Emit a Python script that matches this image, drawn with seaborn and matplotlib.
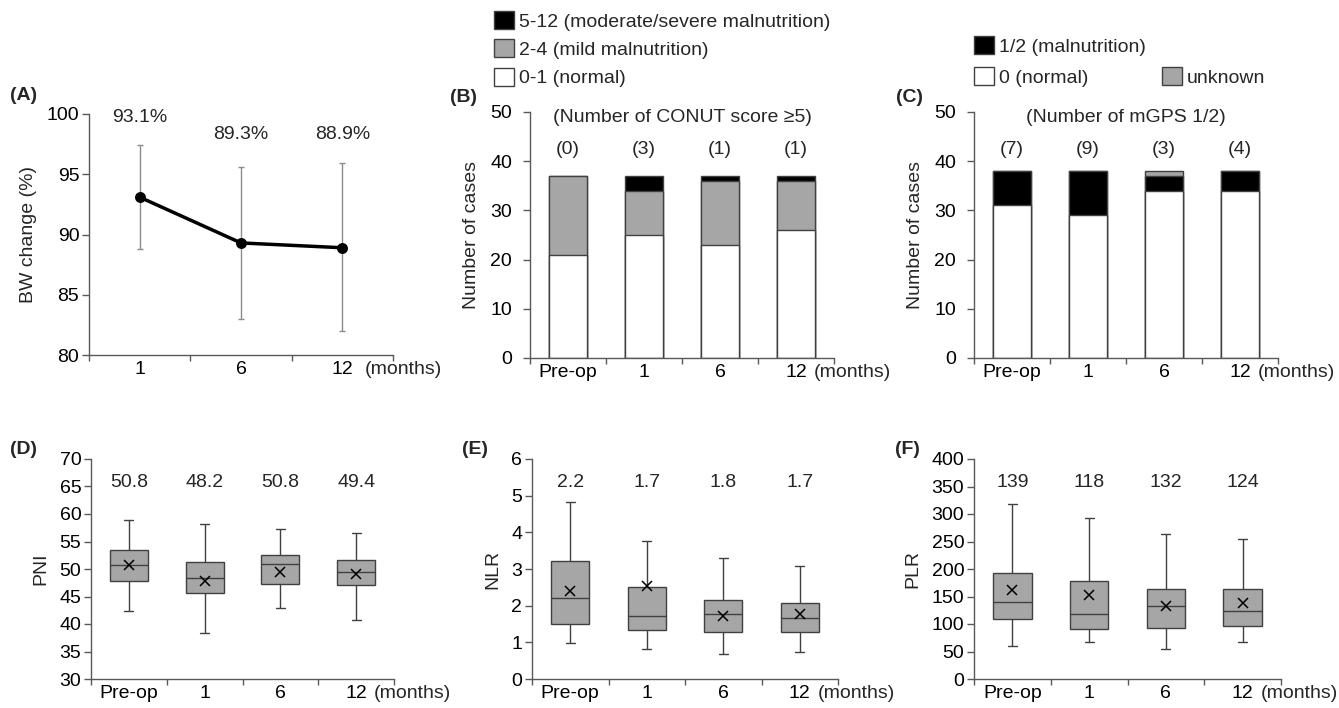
import numpy as np
import pandas as pd
import matplotlib
matplotlib.use("Agg")
import matplotlib.pyplot as plt
import seaborn as sns
from matplotlib.patches import Patch
from matplotlib.transforms import blended_transform_factory

# ---- values ----
bw_months = ["1", "6", "12"]
bw_mean = [93.1, 89.3, 88.9]
bw_low = [88.8, 83.0, 82.0]
bw_high = [97.4, 95.6, 95.9]
bw_labels = ["93.1%", "89.3%", "88.9%"]

times = ["Pre-op", "1", "6", "12"]

conut_normal = [21, 25, 23, 26]
conut_mild = [16, 9, 13, 10]
conut_severe = [0, 3, 1, 1]
conut_counts = ["(0)", "(3)", "(1)", "(1)"]

mgps_normal = [31, 29, 34, 34]
mgps_mal = [7, 9, 3, 4]
mgps_unknown = [0, 0, 1, 0]
mgps_counts = ["(7)", "(9)", "(3)", "(4)"]

# box summaries: lower whisker, Q1, median, Q3, upper whisker, mean
pni_low = [42.4, 38.4, 42.9, 40.7]
pni_q1 = [47.9, 45.6, 47.2, 47.1]
pni_med = [50.8, 48.3, 50.9, 49.4]
pni_q3 = [53.4, 51.2, 52.6, 51.7]
pni_high = [59.0, 58.1, 57.2, 56.6]
pni_mean = [50.7, 47.8, 49.4, 49.1]
pni_labels = ["50.8", "48.2", "50.8", "49.4"]

nlr_low = [0.98, 0.82, 0.68, 0.75]
nlr_q1 = [1.50, 1.33, 1.27, 1.29]
nlr_med = [2.20, 1.71, 1.76, 1.66]
nlr_q3 = [3.21, 2.51, 2.15, 2.07]
nlr_high = [4.82, 3.76, 3.31, 3.08]
nlr_mean = [2.39, 2.55, 1.73, 1.76]
nlr_labels = ["2.2", "1.7", "1.8", "1.7"]

plr_low = [60, 67, 55, 68]
plr_q1 = [110, 91, 93, 97]
plr_med = [140, 119, 132, 124]
plr_q3 = [193, 178, 163, 163]
plr_high = [318, 292, 264, 255]
plr_mean = [161, 153, 132, 138]
plr_labels = ["139", "118", "132", "124"]

GRAY = "#a6a6a6"
EDGE = "#404040"
AXC = "#595959"
FS = 14

sns.set_theme(style="white")
plt.rcParams["font.family"] = ["Liberation Sans", "DejaVu Sans"]
plt.rcParams["axes.edgecolor"] = AXC
plt.rcParams["axes.linewidth"] = 1.0
plt.rcParams["xtick.color"] = AXC
plt.rcParams["ytick.color"] = AXC
plt.rcParams["xtick.labelcolor"] = "black"
plt.rcParams["ytick.labelcolor"] = "black"

W, H = 1339, 708
fig = plt.figure(figsize=(W / 100, H / 100), dpi=100)


def px_axes(left, right, top, bottom):
    return fig.add_axes([left / W, 1 - bottom / H, (right - left) / W, (bottom - top) / H])


def style_axis(ax, labels, ylim, yticks, ylabel, months_dx=13, ypad=2):
    n = len(labels)
    sns.despine(ax=ax)
    ax.set_xlim(-0.5, n - 0.5)
    ax.set_ylim(*ylim)
    ax.set_yticks(yticks)
    ax.set_xticks(range(n), labels)
    ax.set_xticks(np.arange(n + 1) - 0.5, minor=True)
    ax.tick_params(axis="x", which="major", length=0, pad=4, labelsize=FS)
    ax.tick_params(axis="x", which="minor", length=4, width=1, direction="out", bottom=True)
    ax.tick_params(axis="y", length=5, width=1, pad=ypad, direction="out", left=True, labelsize=FS)
    ax.set_xlabel("")
    ax.set_ylabel(ylabel, fontsize=FS, labelpad=7)
    tr = blended_transform_factory(ax.transData, ax.transAxes)
    ax.annotate("(months)", xy=(n - 1, 0), xycoords=tr, xytext=(months_dx, -4),
                textcoords="offset points", ha="left", va="top", fontsize=FS)


# ---- (A) body weight change ----
ax = px_axes(89, 393, 114, 355)
lo = np.array(bw_mean) - np.array(bw_low)
hi = np.array(bw_high) - np.array(bw_mean)
ax.errorbar(range(3), bw_mean, yerr=[lo, hi], fmt="none", ecolor="#8c8c8c",
            elinewidth=1, capsize=2.5, capthick=1, zorder=1)
sns.pointplot(x=bw_months, y=bw_mean, ax=ax, color="black", errorbar=None,
              markersize=6, linewidth=2.5, zorder=3)
style_axis(ax, bw_months, (80, 100), [80, 85, 90, 95, 100], "BW change (%)", months_dx=16)
for i, (lab, y) in enumerate(zip(bw_labels, [99.7, 98.3, 98.3])):
    ax.text(i, y, lab, ha="center", va="center", fontsize=FS, clip_on=False)


# ---- stacked bars ----
def stacked(ax, layers, colors):
    # draw cumulative totals from the top layer down so lower layers overlay
    cum = np.cumsum(np.array(layers), axis=0)
    for k in range(len(layers) - 1, -1, -1):
        sns.barplot(x=times, y=cum[k], ax=ax, color=colors[k], saturation=1,
                    width=0.5, edgecolor=EDGE, linewidth=1, errorbar=None)


ax = px_axes(530, 834, 112, 358)
stacked(ax, [conut_normal, conut_mild, conut_severe], ["white", GRAY, "black"])
style_axis(ax, times, (0, 50), range(0, 51, 10), "Number of cases", ypad=8)
ax.text(1.5, 48.8, "(Number of CONUT score \u22655)", ha="center", va="center", fontsize=FS)
for i, lab in enumerate(conut_counts):
    ax.text(i, 42.3, lab, ha="center", va="center", fontsize=FS)

hb = [Patch(facecolor="black", edgecolor=EDGE, label="5-12 (moderate/severe malnutrition)"),
      Patch(facecolor=GRAY, edgecolor=EDGE, label="2-4 (mild malnutrition)"),
      Patch(facecolor="white", edgecolor=EDGE, label="0-1 (normal)")]
fig.legend(handles=hb, loc="upper left", bbox_to_anchor=(494 / W, 1 - 11 / H), frameon=False,
           fontsize=FS, handlelength=1.05, handleheight=1.05, handletextpad=0.25,
           labelspacing=0.45, borderpad=0, borderaxespad=0)

ax = px_axes(974, 1278, 112, 358)
stacked(ax, [mgps_normal, mgps_mal, mgps_unknown], ["white", "black", GRAY])
style_axis(ax, times, (0, 50), range(0, 51, 10), "Number of cases", ypad=8)
ax.text(1.5, 48.8, "(Number of mGPS 1/2)", ha="center", va="center", fontsize=FS)
for i, lab in enumerate(mgps_counts):
    ax.text(i, 42.3, lab, ha="center", va="center", fontsize=FS)

hc = [Patch(facecolor="black", edgecolor=EDGE, label="1/2 (malnutrition)"),
      Patch(facecolor="white", edgecolor=EDGE, label="0 (normal)"),
      Patch(facecolor="none", edgecolor="none", label=""),
      Patch(facecolor=GRAY, edgecolor=EDGE, label="unknown")]
fig.legend(handles=hc, loc="upper left", bbox_to_anchor=(974 / W, 1 - 36 / H), frameon=False,
           ncol=2, columnspacing=0.8, fontsize=FS, handlelength=1.05, handleheight=1.05,
           handletextpad=0.25, labelspacing=0.6, borderpad=0, borderaxespad=0)


# ---- box plots ----
def boxes(ax, low, q1, med, q3, high, mean, labels, ylim, yticks, ylabel, label_y):
    df = pd.DataFrame({
        "time": np.repeat(times, 5),
        "value": np.column_stack([low, q1, med, q3, high]).ravel(),
    })
    sns.boxplot(data=df, x="time", y="value", ax=ax, order=times, width=0.5,
                whis=(0, 100), color=GRAY, linecolor=EDGE, linewidth=1,
                saturation=1, capwidths=0.12)
    sns.pointplot(x=times, y=mean, ax=ax, order=times, color="black", errorbar=None,
                  marker="x", linestyle="none", markersize=7, markeredgewidth=1.1, zorder=5)
    style_axis(ax, times, ylim, yticks, ylabel)
    for i, lab in enumerate(labels):
        ax.text(i, label_y, lab, ha="center", va="center", fontsize=FS)


ax = px_axes(91, 394, 459, 679)
boxes(ax, pni_low, pni_q1, pni_med, pni_q3, pni_high, pni_mean, pni_labels,
      (30, 70), range(30, 71, 5), "PNI", 65.8)

ax = px_axes(532, 838, 459, 679)
boxes(ax, nlr_low, nlr_q1, nlr_med, nlr_q3, nlr_high, nlr_mean, nlr_labels,
      (0, 6), range(0, 7), "NLR", 5.37)

ax = px_axes(974, 1281, 459, 679)
boxes(ax, plr_low, plr_q1, plr_med, plr_q3, plr_high, plr_mean, plr_labels,
      (0, 400), range(0, 401, 50), "PLR", 357.6)

# panel letters
for lab, x, y in [("(A)", 10, 96), ("(B)", 450, 97), ("(C)", 896, 97),
                  ("(D)", 10, 450), ("(E)", 462, 450), ("(F)", 895, 450)]:
    fig.text(x / W, 1 - y / H, lab, ha="left", va="center", fontsize=FS, fontweight="bold")

fig.savefig("out.png", dpi=100)
